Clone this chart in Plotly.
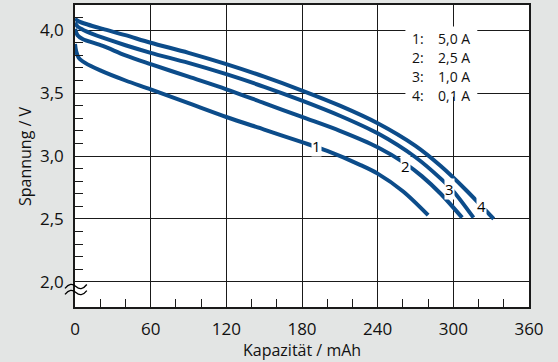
import plotly.graph_objects as go

# ---- data ----
cap_1 = [0, 1, 3, 8, 20, 40, 60, 90, 120, 150, 180, 200, 226, 240, 260, 280]
volt_1 = [3.89, 3.83, 3.78, 3.74, 3.68, 3.60, 3.53, 3.42, 3.31, 3.21, 3.11, 3.04, 2.93, 2.86, 2.72, 2.53]

cap_2 = [0, 2, 6, 22, 40, 60, 90, 120, 150, 180, 210, 240, 262, 275, 290, 307]
volt_2 = [4.01, 3.96, 3.93, 3.875, 3.80, 3.73, 3.63, 3.53, 3.42, 3.31, 3.20, 3.07, 2.94, 2.84, 2.70, 2.51]

cap_3 = [0, 2, 7, 22, 40, 60, 90, 120, 150, 180, 210, 240, 270, 290, 300, 316]
volt_3 = [4.06, 4.03, 4.0, 3.94, 3.88, 3.82, 3.74, 3.65, 3.55, 3.44, 3.32, 3.18, 2.99, 2.82, 2.72, 2.51]

cap_4 = [0, 3, 10, 22, 40, 60, 90, 120, 150, 180, 210, 240, 270, 290, 310, 332]
volt_4 = [4.09, 4.07, 4.045, 4.01, 3.96, 3.90, 3.82, 3.73, 3.63, 3.52, 3.40, 3.26, 3.08, 2.92, 2.73, 2.50]

curve_labels = ["1", "2", "3", "4"]
label_cap = [191.6, 262.4, 296.8, 322.5]
label_volt = [3.08, 2.92, 2.74, 2.60]
legend_currents = ["5,0 A", "2,5 A", "1,0 A", "0,1 A"]

x_ticks = [0, 60, 120, 180, 240, 300, 360]
y_ticks = [2.0, 2.5, 3.0, 3.5, 4.0]
x_minor = [v for v in range(20, 360, 20) if v % 60 != 0]
y_minor = [2.1, 2.2, 2.3, 2.4, 2.6, 2.7, 2.8, 2.9, 3.1, 3.2, 3.3, 3.4,
           3.6, 3.7, 3.8, 3.9, 4.1]

BLUE = "#0c4c8a"
FONT = "Open Sans"
INK = "#1a1a1a"

fig = go.Figure()
for cx, vy in [(cap_1, volt_1), (cap_2, volt_2), (cap_3, volt_3), (cap_4, volt_4)]:
    fig.add_trace(go.Scatter(x=cx, y=vy, mode="lines",
                             line=dict(color=BLUE, width=4, shape="spline", smoothing=0.9),
                             showlegend=False, hoverinfo="skip"))

# curve number labels
for t, cx, vy in zip(curve_labels, label_cap, label_volt):
    fig.add_annotation(x=cx, y=vy, text=t, showarrow=False, bgcolor="white",
                       borderpad=0, font=dict(family=FONT, size=15, color="black"))

# legend box (white patch over grid)
fig.add_shape(type="rect", xref="x", yref="y", x0=262, x1=319, y0=3.47, y1=4.03,
              fillcolor="white", line=dict(width=0), layer="above")
for i, (t, cur) in enumerate(zip(curve_labels, legend_currents)):
    yv = 3.93 - i * 0.1505
    fig.add_annotation(x=265.5, y=yv, text=t + ":", showarrow=False, xanchor="left",
                       font=dict(family=FONT, size=14, color="#111"))
    fig.add_annotation(x=286, y=yv, text=cur, showarrow=False, xanchor="left",
                       font=dict(family=FONT, size=14, color="#111"))

# axis titles
fig.add_annotation(xref="paper", yref="paper", x=0.5, y=-0.098, yanchor="top",
                   text="Kapazität / mAh", showarrow=False,
                   font=dict(family=FONT, size=16, color="#111"))
fig.add_annotation(xref="paper", yref="paper", x=-0.11, y=0.5, xanchor="center",
                   text="Spannung / V", showarrow=False, textangle=-90,
                   font=dict(family=FONT, size=16, color="#111"))

# axis break squiggles
def tilde(xa, yc, w=0.048, a=0.0065):
    return (f"M {xa},{yc - a} C {xa + w*0.18},{yc + a*1.6} {xa + w*0.34},{yc + a*1.6} {xa + w*0.5},{yc} "
            f"S {xa + w*0.82},{yc - a*1.6} {xa + w},{yc + a}")

for yc in [0.068, 0.048]:
    fig.add_shape(type="path", xref="paper", yref="paper", path=tilde(-0.022, yc),
                  line=dict(color="black", width=1.3))

fig.update_layout(
    width=558, height=362,
    margin=dict(l=75, r=29, t=5, b=55),
    paper_bgcolor="#e3e5e4", plot_bgcolor="white",
    separators=",.",
    font=dict(family=FONT, color="#111"),
    xaxis=dict(range=[0, 360], tickvals=x_ticks, showgrid=True, gridcolor=INK, gridwidth=1.3,
               showline=True, linecolor=INK, linewidth=1.6, mirror=True, zeroline=False,
               automargin=False,
               ticks="", tickfont=dict(size=17), ticklabelstandoff=6,
               minor=dict(tickvals=x_minor, ticks="inside", ticklen=8, tickcolor=INK,
                          tickwidth=1.3, showgrid=False)),
    yaxis=dict(range=[1.8, 4.2], tickvals=y_ticks, tickformat=".1f", showgrid=True,
               gridcolor=INK, gridwidth=1.3, automargin=False,
               showline=True, linecolor=INK, linewidth=1.6, mirror=True, zeroline=False,
               ticks="", tickfont=dict(size=17), ticklabelstandoff=6,
               minor=dict(tickvals=y_minor, ticks="inside", ticklen=8, tickcolor=INK,
                          tickwidth=1.3, showgrid=False)),
)

fig.write_html("out.html", config={"displayModeBar": False},
               post_script="document.body.style.margin='0';document.body.style.overflow='hidden';")
